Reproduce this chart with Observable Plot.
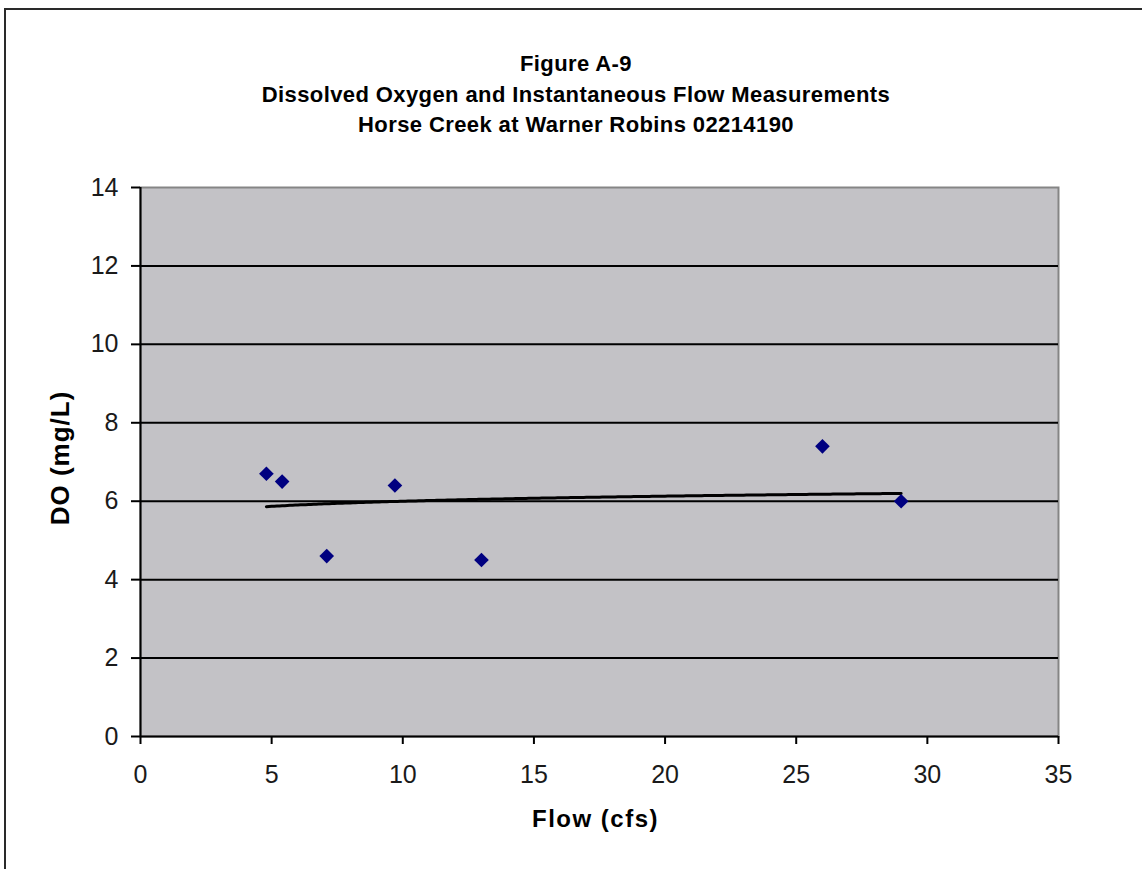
<!DOCTYPE html>
<html>
<head>
<meta charset="utf-8">
<script src="https://cdn.jsdelivr.net/npm/d3@7"></script>
<script src="https://cdn.jsdelivr.net/npm/@observablehq/plot@0.6"></script>
<style>
  html, body { margin: 0; padding: 0; background: #fff; overflow: hidden; }
  #page { position: relative; width: 1142px; height: 869px; overflow: hidden; }
  #border { position: absolute; left: 4px; top: 8px; width: 3000px; height: 3000px;
            border-left: 2px solid #2a2a2a; border-top: 2px solid #2a2a2a; }
  #title { position: absolute; left: 0; top: 49px; width: 1152px; text-align: center;
           font-family: "Liberation Sans", Arial, sans-serif; font-weight: bold;
           font-size: 22px; line-height: 30.5px; letter-spacing: 0.4px; color: #000; }
  #chart { position: absolute; left: 0; top: 150px; }
</style>
</head>
<body>
<div id="page">
  <div id="border"></div>
  <div id="title">Figure A-9<br>Dissolved Oxygen and Instantaneous Flow Measurements<br>Horse Creek at Warner Robins 02214190</div>
  <div id="chart"></div>
</div>
<script>
// Instantaneous flow (cfs) and dissolved oxygen (mg/L) samples
const flowCfs = [4.8, 5.4, 7.1, 9.7, 13.0, 26.0, 29.0];
const doMgL   = [6.7, 6.5, 4.6, 6.4, 4.5, 7.4, 6.0];

// Axis ticks
const xTicks = [0, 5, 10, 15, 20, 25, 30, 35];
const yTicks = [0, 2, 4, 6, 8, 10, 12, 14];

const samples = flowCfs.map((f, i) => ({flow: f, dO: doMgL[i]}));

// Logarithmic trendline: DO = a + b * ln(flow)
const lnX = flowCfs.map(Math.log);
const mx = d3.mean(lnX), my = d3.mean(doMgL);
const b = d3.sum(lnX, (v, i) => (v - mx) * (doMgL[i] - my)) / d3.sum(lnX, v => (v - mx) ** 2);
const a = my - b * mx;
const [xMin, xMax] = d3.extent(flowCfs);
const trend = d3.range(xMin, xMax, 0.1).concat([xMax]).map(f => ({flow: f, dO: a + b * Math.log(f)}));

const font = "'Liberation Sans', Arial, sans-serif";

const chart = Plot.plot({
  width: 1142,
  height: 719,
  marginTop: 37,
  marginBottom: 133,
  marginLeft: 140,
  marginRight: 84,
  x: {domain: [0, 35]},
  y: {domain: [0, 14]},
  style: {fontFamily: font, background: "transparent", color: "#1a1a1a", overflow: "visible"},
  marks: [
    Plot.frame({fill: "#c3c2c6", stroke: "#858585", strokeWidth: 2}),
    Plot.ruleY(yTicks.filter(v => v > 0 && v < 14), {stroke: "#000", strokeWidth: 2}),
    Plot.ruleX([0], {stroke: "#000", strokeWidth: 2}),
    Plot.ruleY([0], {stroke: "#000", strokeWidth: 2}),
    Plot.axisX({ticks: xTicks, tickSize: 8, tickPadding: 21, fontSize: 25, stroke: "#000", strokeWidth: 2, label: null}),
    Plot.axisY({ticks: yTicks, tickSize: 9, tickPadding: 13, fontSize: 25, stroke: "#000", strokeWidth: 2, label: null}),
    Plot.line(trend, {x: "flow", y: "dO", stroke: "#000", strokeWidth: 3}),
    Plot.dot(samples, {x: "flow", y: "dO", symbol: "diamond2", r: 6.6, fill: "#000080", stroke: "none"}),
    Plot.text(["Flow (cfs)"], {frameAnchor: "bottom", dy: 83, dx: -4, lineAnchor: "middle", textAnchor: "middle", fontSize: 24, fontWeight: "bold", fill: "#000"}),
    Plot.text(["DO (mg/L)"], {frameAnchor: "left", dx: -80, dy: -4, rotate: -90, lineAnchor: "middle", textAnchor: "middle", fontSize: 26, fontWeight: "bold", fill: "#000"})
  ]
});

// Wider letter spacing for the axis titles
chart.querySelectorAll("text").forEach(t => {
  if (t.textContent === "Flow (cfs)") t.setAttribute("letter-spacing", "1.5");
  if (t.textContent === "DO (mg/L)") t.setAttribute("letter-spacing", "1");
});

document.getElementById("chart").appendChild(chart);
</script>
</body>
</html>
